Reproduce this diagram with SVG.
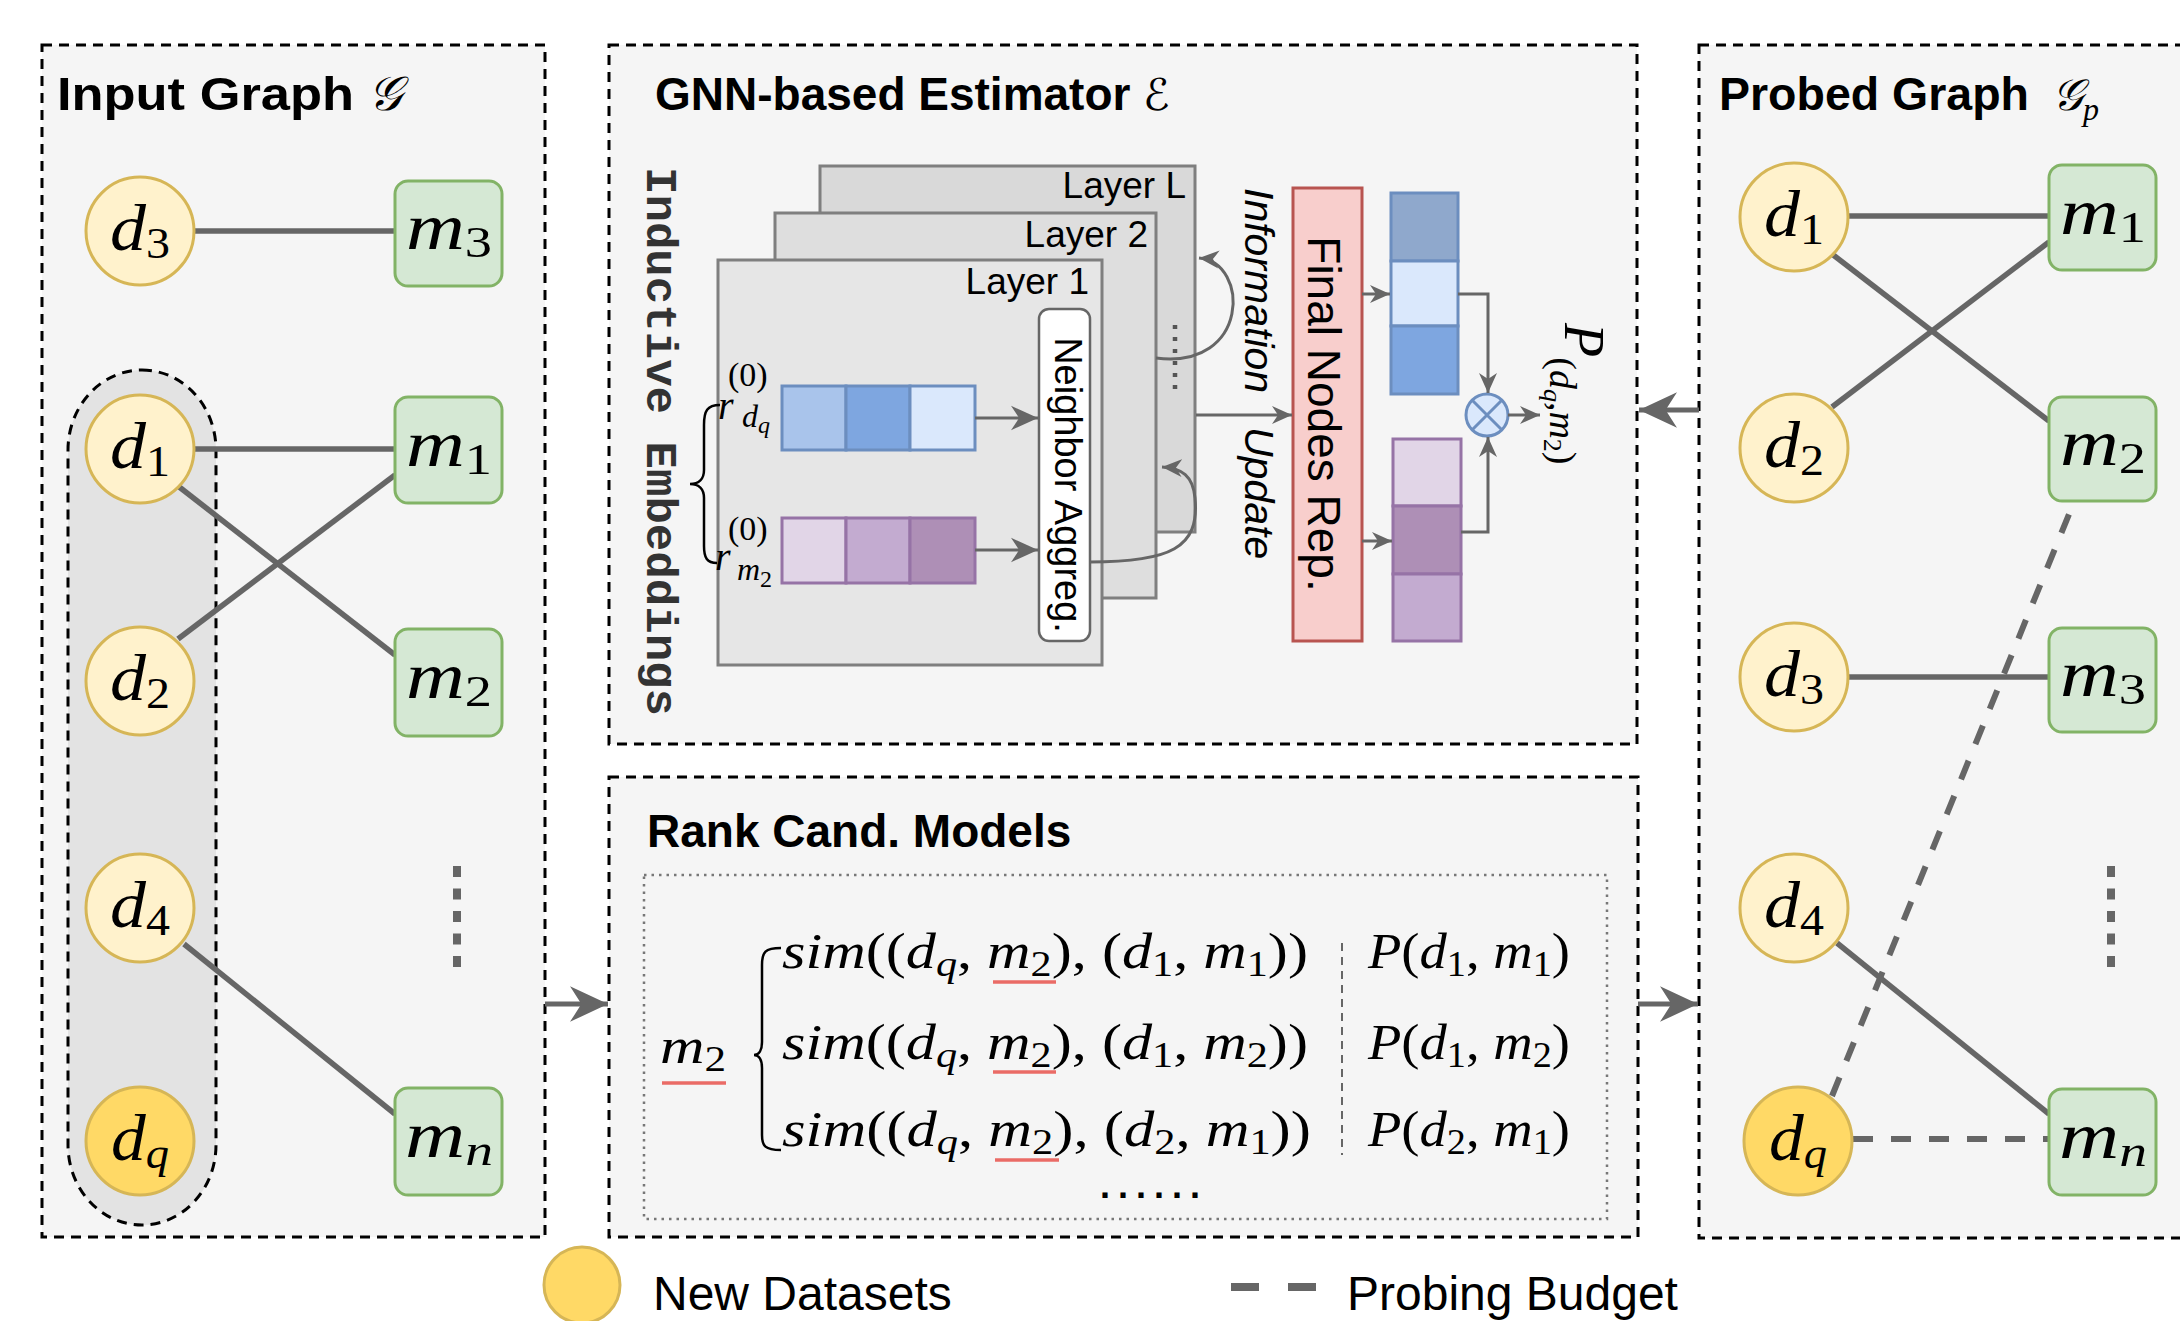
<svg xmlns="http://www.w3.org/2000/svg" width="2180" height="1321" viewBox="0 0 2180 1321">
<style>
.panel{fill:#f5f5f5;stroke:#000;stroke-width:3;stroke-dasharray:10 7}
.dn{fill:#fff2cc;stroke:#d6b656;stroke-width:3}
.dqn{fill:#ffd966;stroke:#d6b656;stroke-width:3}
.mb{fill:#d5e8d4;stroke:#82b366;stroke-width:3}
.edge{stroke:#666;stroke-width:5.5;fill:none}
.probe{stroke:#666;stroke-width:6;stroke-dasharray:20 18;fill:none}
.arr{stroke:#666;stroke-width:3;fill:none}
.flow{stroke:#666;stroke-width:5;fill:none}
.vdots{stroke:#666;stroke-width:8;stroke-dasharray:11 11.5}
.lbl{font-family:"Liberation Serif",serif;font-style:italic;font-size:66px;text-anchor:middle;fill:#000}
.sub{font-size:44px;font-style:normal}
.subi{font-size:44px;font-style:italic}
.title{font-family:"Liberation Sans",Arial,sans-serif;font-weight:bold;font-size:46px;fill:#000}
.sans{font-family:"Liberation Sans",Arial,sans-serif;fill:#000}
.mth{font-family:"Liberation Serif",serif;font-size:50px;fill:#000}
.it{font-style:italic}
.sb{font-size:35px}
.layer{stroke:#7f7f7f;stroke-width:3}
.cellb{stroke:#6c8ebf;stroke-width:3}
.cellp{stroke:#9673a6;stroke-width:3}
.brace{stroke:#000;stroke-width:2.5;fill:none}
.uline{stroke:#ea6b66;stroke-width:3.5}
</style>
<defs>
<marker id="ah" viewBox="0 0 10 10" refX="10" refY="5" markerWidth="27" markerHeight="27" markerUnits="userSpaceOnUse" orient="auto"><path d="M0,0.5 L10,5 L0,9.5 L3,5 z" fill="#666"/></marker>
<marker id="ahs" viewBox="0 0 10 10" refX="10" refY="5" markerWidth="20" markerHeight="20" markerUnits="userSpaceOnUse" orient="auto"><path d="M0,0.5 L10,5 L0,9.5 L3,5 z" fill="#666"/></marker>
<marker id="ahb" viewBox="0 0 10 10" refX="10" refY="5" markerWidth="38" markerHeight="38" markerUnits="userSpaceOnUse" orient="auto"><path d="M0,0.3 L10,5 L0,9.7 L3,5 z" fill="#666"/></marker>
</defs>
<rect width="2180" height="1321" fill="#fff"/>

<!-- panels -->
<g id="panel-input">
<rect class="panel" x="42" y="45" width="503" height="1192"/>
<text class="title" x="57" y="110" font-size="53" textLength="297" lengthAdjust="spacingAndGlyphs">Input Graph</text>
<text x="368" y="110" font-family="DejaVu Serif, serif" font-size="48" font-style="italic">𝒢</text>
<rect x="68" y="370" width="148" height="855" rx="74" ry="80" fill="#e3e3e3" stroke="#000" stroke-width="3" stroke-dasharray="10 7"/>
</g>

<g id="panel-gnn">
<rect class="panel" x="609" y="45" width="1028" height="699"/>
<text class="title" x="655" y="110">GNN-based Estimator</text>
<text x="1143" y="110" font-family="DejaVu Sans, sans-serif" font-size="44" font-style="italic">ℰ</text>
<text transform="translate(647,167) rotate(90)" font-family="Liberation Mono, monospace" font-weight="bold" font-size="45" fill="#333" textLength="549" lengthAdjust="spacingAndGlyphs">Inductive Embeddings</text>
</g>

<g id="panel-rank">
<rect class="panel" x="609" y="777" width="1029" height="460"/>
<text class="title" x="647" y="847">Rank Cand. Models</text>
<rect x="644" y="875" width="963" height="344" fill="none" stroke="#777" stroke-width="2.5" stroke-dasharray="2.5 5"/>
</g>

<g id="panel-probed">
<rect class="panel" x="1699" y="45" width="520" height="1193"/>
<text class="title" x="1719" y="110" textLength="310" lengthAdjust="spacingAndGlyphs">Probed Graph</text>
<text x="2052" y="110" font-family="DejaVu Serif, serif" font-size="44" font-style="italic">𝒢<tspan font-family="Liberation Serif, serif" font-size="32" dy="10">p</tspan></text>
</g>

<!-- GNN estimator internals -->
<g id="layer-L">
<rect class="layer" x="820" y="166" width="375" height="366" fill="#d9d9d9"/>
<text class="sans" x="1186" y="198" font-size="37" text-anchor="end">Layer L</text>
</g>
<g id="layer-2">
<rect class="layer" x="775" y="213" width="381" height="385" fill="#dedede"/>
<text class="sans" x="1148" y="247" font-size="37" text-anchor="end">Layer 2</text>
</g>
<g id="layer-1">
<rect class="layer" x="718" y="260" width="384" height="405" fill="#e6e6e6"/>
<text class="sans" x="1089" y="294" font-size="37" text-anchor="end">Layer 1</text>
</g>
<line x1="1175" y1="325" x2="1175" y2="394" stroke="#555" stroke-width="4.5" stroke-dasharray="4 8"/>

<g id="neighbor-aggreg">
<rect x="1039" y="309" width="51" height="332" rx="10" fill="#fff" stroke="#666" stroke-width="2.5"/>
<text class="sans" transform="translate(1055,485) rotate(90)" font-size="38" text-anchor="middle">Neighbor Aggreg.</text>
</g>

<g id="emb-dq">
<rect class="cellb" x="782" y="386" width="64" height="64" fill="#a9c4eb"/>
<rect class="cellb" x="846" y="386" width="64" height="64" fill="#7ea6e0"/>
<rect class="cellb" x="910" y="386" width="65" height="64" fill="#dae8fc"/>
<text x="728" y="386" font-family="Liberation Serif, serif" font-size="34">(0)</text>
<text x="718" y="419" font-family="Liberation Serif, serif" font-style="italic" font-size="40">r</text>
<text x="742" y="427" font-family="Liberation Serif, serif" font-style="italic" font-size="32">d<tspan font-size="24" dy="6">q</tspan></text>
</g>
<g id="emb-m2">
<rect class="cellp" x="782" y="518" width="64" height="65" fill="#e1d5e7"/>
<rect class="cellp" x="846" y="518" width="64" height="65" fill="#c3abd0"/>
<rect class="cellp" x="910" y="518" width="65" height="65" fill="#ae8fb6"/>
<text x="728" y="540" font-family="Liberation Serif, serif" font-size="34">(0)</text>
<text x="715" y="570" font-family="Liberation Serif, serif" font-style="italic" font-size="40">r</text>
<text x="737" y="580" font-family="Liberation Serif, serif" font-style="italic" font-size="32">m<tspan font-style="normal" font-size="24" dy="7">2</tspan></text>
</g>
<path class="brace" d="M720,405 C707,405 704,411 704,425 L704,470 C704,479 699,484 690,484 C699,484 704,489 704,498 L704,546 C704,558 707,563 717,563"/>

<g id="info-update">
<text class="sans" transform="translate(1245,188) rotate(90)" font-size="41" font-style="italic">Information</text>
<text class="sans" transform="translate(1245,427) rotate(90)" font-size="41" font-style="italic">Update</text>
</g>

<g id="final-nodes-rep">
<rect x="1293" y="188" width="69" height="453" fill="#f8cecc" stroke="#b85450" stroke-width="3"/>
<text class="sans" transform="translate(1308,414) rotate(90)" font-size="46" text-anchor="middle">Final Nodes Rep.</text>
</g>

<g id="final-emb-dq">
<rect class="cellb" x="1391" y="193" width="67" height="68" fill="#8fa8cc"/>
<rect class="cellb" x="1391" y="261" width="67" height="65" fill="#dae8fc"/>
<rect class="cellb" x="1391" y="326" width="67" height="68" fill="#7ea6e0"/>
</g>
<g id="final-emb-m2">
<rect class="cellp" x="1393" y="439" width="68" height="67" fill="#e1d5e7"/>
<rect class="cellp" x="1393" y="506" width="68" height="68" fill="#ae8fb6"/>
<rect class="cellp" x="1393" y="574" width="68" height="67" fill="#c3abd0"/>
</g>

<g id="product">
<circle cx="1487" cy="415" r="21" fill="#dae8fc" stroke="#6c8ebf" stroke-width="3"/>
<path d="M1472,400 L1502,430 M1502,400 L1472,430" stroke="#6c8ebf" stroke-width="3"/>
</g>

<g id="score-label">
<text transform="translate(1565,323) rotate(90)" font-family="Liberation Serif, serif" font-style="italic" font-size="56">P<tspan font-size="38" font-style="normal" dy="15">(</tspan><tspan font-size="38">d</tspan><tspan font-size="26" dy="6">q</tspan><tspan font-size="38" font-style="normal" dy="-6">,</tspan><tspan font-size="38">m</tspan><tspan font-size="26" font-style="normal" dy="6">2</tspan><tspan font-size="38" font-style="normal" dy="-6">)</tspan></text>
</g>

<!-- ranking formulas -->
<g id="rank-formulas">
<text class="mth it" x="660" y="1063" textLength="66" lengthAdjust="spacingAndGlyphs">m<tspan class="sb" font-style="normal" dy="8">2</tspan></text>
<line class="uline" x1="662" y1="1083" x2="726" y2="1083"/>
<path class="brace" d="M781,948 C765,948 762,952 762,965 L762,1042 C762,1050 759,1055 754,1055 C759,1055 762,1060 762,1068 L762,1135 C762,1146 765,1150 781,1150"/>
<text class="mth" x="782" y="968" textLength="526" lengthAdjust="spacingAndGlyphs"><tspan class="it">sim</tspan>((<tspan class="it">d</tspan><tspan class="sb it" dy="8">q</tspan><tspan dy="-8">, </tspan><tspan class="it">m</tspan><tspan class="sb" dy="8">2</tspan><tspan dy="-8">), (</tspan><tspan class="it">d</tspan><tspan class="sb" dy="8">1</tspan><tspan dy="-8">, </tspan><tspan class="it">m</tspan><tspan class="sb" dy="8">1</tspan><tspan dy="-8">))</tspan></text>
<text class="mth" x="782" y="1059" textLength="526" lengthAdjust="spacingAndGlyphs"><tspan class="it">sim</tspan>((<tspan class="it">d</tspan><tspan class="sb it" dy="8">q</tspan><tspan dy="-8">, </tspan><tspan class="it">m</tspan><tspan class="sb" dy="8">2</tspan><tspan dy="-8">), (</tspan><tspan class="it">d</tspan><tspan class="sb" dy="8">1</tspan><tspan dy="-8">, </tspan><tspan class="it">m</tspan><tspan class="sb" dy="8">2</tspan><tspan dy="-8">))</tspan></text>
<text class="mth" x="782" y="1146" textLength="529" lengthAdjust="spacingAndGlyphs"><tspan class="it">sim</tspan>((<tspan class="it">d</tspan><tspan class="sb it" dy="8">q</tspan><tspan dy="-8">, </tspan><tspan class="it">m</tspan><tspan class="sb" dy="8">2</tspan><tspan dy="-8">), (</tspan><tspan class="it">d</tspan><tspan class="sb" dy="8">2</tspan><tspan dy="-8">, </tspan><tspan class="it">m</tspan><tspan class="sb" dy="8">1</tspan><tspan dy="-8">))</tspan></text>
<line class="uline" x1="993" y1="982" x2="1056" y2="982"/>
<line class="uline" x1="993" y1="1072" x2="1056" y2="1072"/>
<line class="uline" x1="995" y1="1160" x2="1059" y2="1160"/>
<line x1="1342" y1="943" x2="1342" y2="1155" stroke="#666" stroke-width="2" stroke-dasharray="8 6"/>
<text class="mth" x="1368" y="968" textLength="202" lengthAdjust="spacingAndGlyphs"><tspan class="it">P</tspan>(<tspan class="it">d</tspan><tspan class="sb" dy="8">1</tspan><tspan dy="-8">, </tspan><tspan class="it">m</tspan><tspan class="sb" dy="8">1</tspan><tspan dy="-8">)</tspan></text>
<text class="mth" x="1368" y="1059" textLength="202" lengthAdjust="spacingAndGlyphs"><tspan class="it">P</tspan>(<tspan class="it">d</tspan><tspan class="sb" dy="8">1</tspan><tspan dy="-8">, </tspan><tspan class="it">m</tspan><tspan class="sb" dy="8">2</tspan><tspan dy="-8">)</tspan></text>
<text class="mth" x="1368" y="1146" textLength="202" lengthAdjust="spacingAndGlyphs"><tspan class="it">P</tspan>(<tspan class="it">d</tspan><tspan class="sb" dy="8">2</tspan><tspan dy="-8">, </tspan><tspan class="it">m</tspan><tspan class="sb" dy="8">1</tspan><tspan dy="-8">)</tspan></text>
<text class="sans" x="1100" y="1198" font-size="36" font-weight="bold" textLength="100" lengthAdjust="spacing">......</text>
</g>

<!-- connectors -->
<g id="connectors">
<line class="edge" x1="194" y1="231" x2="395" y2="231"/>
<line class="edge" x1="194" y1="449" x2="395" y2="449"/>
<line class="edge" x1="178" y1="486" x2="395" y2="655"/>
<line class="edge" x1="178" y1="639" x2="395" y2="475"/>
<line class="edge" x1="184" y1="944" x2="395" y2="1114"/>
<line class="vdots" x1="457" y1="866" x2="457" y2="968"/>

<line class="edge" x1="1849" y1="216" x2="2049" y2="216"/>
<line class="edge" x1="1832" y1="254" x2="2049" y2="421"/>
<line class="edge" x1="1832" y1="407" x2="2049" y2="242"/>
<line class="edge" x1="1849" y1="677" x2="2049" y2="677"/>
<line class="edge" x1="1837" y1="943" x2="2049" y2="1114"/>
<line class="probe" x1="1832" y1="1096" x2="2074" y2="502"/>
<line class="probe" x1="1853" y1="1139" x2="2049" y2="1139"/>
<line class="vdots" x1="2111" y1="866" x2="2111" y2="968"/>

<line class="arr" x1="975" y1="418" x2="1038" y2="418" marker-end="url(#ah)"/>
<line class="arr" x1="975" y1="550" x2="1038" y2="550" marker-end="url(#ah)"/>
<path class="arr" d="M1156,358 C1250,370 1250,262 1199,258" marker-end="url(#ahs)"/>
<path class="arr" d="M1090,562 C1170,562 1200,548 1195,498 C1193,476 1182,468 1162,467" marker-end="url(#ahs)"/>
<line class="arr" x1="1196" y1="415" x2="1292" y2="415" marker-end="url(#ahs)"/>
<line class="arr" x1="1362" y1="294" x2="1390" y2="294" marker-end="url(#ahs)"/>
<line class="arr" x1="1362" y1="541" x2="1392" y2="541" marker-end="url(#ahs)"/>
<path class="arr" d="M1458,294 L1488,294 L1488,393" marker-end="url(#ahs)"/>
<path class="arr" d="M1461,532 L1488,532 L1488,437" marker-end="url(#ahs)"/>
<line class="arr" x1="1508" y1="415" x2="1540" y2="415" marker-end="url(#ahs)"/>

<line class="flow" x1="545" y1="1004" x2="608" y2="1004" marker-end="url(#ahb)"/>
<line class="flow" x1="1638" y1="1004" x2="1698" y2="1004" marker-end="url(#ahb)"/>
<line class="flow" x1="1699" y1="410" x2="1639" y2="410" marker-end="url(#ahb)"/>
</g>

<!-- input graph nodes -->
<g id="in-d3"><circle class="dn" cx="140" cy="231" r="54"/><text class="lbl" x="140" y="250" textLength="60" lengthAdjust="spacingAndGlyphs">d<tspan class="sub" dy="8">3</tspan></text></g>
<g id="in-d1"><circle class="dn" cx="140" cy="449" r="54"/><text class="lbl" x="140" y="468" textLength="60" lengthAdjust="spacingAndGlyphs">d<tspan class="sub" dy="8">1</tspan></text></g>
<g id="in-d2"><circle class="dn" cx="140" cy="681" r="54"/><text class="lbl" x="140" y="700" textLength="60" lengthAdjust="spacingAndGlyphs">d<tspan class="sub" dy="8">2</tspan></text></g>
<g id="in-d4"><circle class="dn" cx="140" cy="908" r="54"/><text class="lbl" x="140" y="927" textLength="60" lengthAdjust="spacingAndGlyphs">d<tspan class="sub" dy="8">4</tspan></text></g>
<g id="in-dq"><circle class="dqn" cx="140" cy="1141" r="54"/><text class="lbl" x="140" y="1160" textLength="58" lengthAdjust="spacingAndGlyphs">d<tspan class="subi" dy="8">q</tspan></text></g>
<g id="in-m3"><rect class="mb" x="395" y="181" width="107" height="105" rx="13"/><text class="lbl" x="449" y="249" textLength="86" lengthAdjust="spacingAndGlyphs">m<tspan class="sub" dy="8">3</tspan></text></g>
<g id="in-m1"><rect class="mb" x="395" y="397" width="107" height="106" rx="13"/><text class="lbl" x="449" y="466" textLength="86" lengthAdjust="spacingAndGlyphs">m<tspan class="sub" dy="8">1</tspan></text></g>
<g id="in-m2"><rect class="mb" x="395" y="629" width="107" height="107" rx="13"/><text class="lbl" x="449" y="698" textLength="86" lengthAdjust="spacingAndGlyphs">m<tspan class="sub" dy="8">2</tspan></text></g>
<g id="in-mn"><rect class="mb" x="395" y="1088" width="107" height="107" rx="13"/><text class="lbl" x="449" y="1157" textLength="88" lengthAdjust="spacingAndGlyphs">m<tspan class="subi" dy="8">n</tspan></text></g>

<!-- probed graph nodes -->
<g id="pr-d1"><circle class="dn" cx="1794" cy="217" r="54"/><text class="lbl" x="1794" y="236" textLength="60" lengthAdjust="spacingAndGlyphs">d<tspan class="sub" dy="8">1</tspan></text></g>
<g id="pr-d2"><circle class="dn" cx="1794" cy="448" r="54"/><text class="lbl" x="1794" y="467" textLength="60" lengthAdjust="spacingAndGlyphs">d<tspan class="sub" dy="8">2</tspan></text></g>
<g id="pr-d3"><circle class="dn" cx="1794" cy="677" r="54"/><text class="lbl" x="1794" y="696" textLength="60" lengthAdjust="spacingAndGlyphs">d<tspan class="sub" dy="8">3</tspan></text></g>
<g id="pr-d4"><circle class="dn" cx="1794" cy="908" r="54"/><text class="lbl" x="1794" y="927" textLength="60" lengthAdjust="spacingAndGlyphs">d<tspan class="sub" dy="8">4</tspan></text></g>
<g id="pr-dq"><circle class="dqn" cx="1798" cy="1141" r="54"/><text class="lbl" x="1798" y="1160" textLength="58" lengthAdjust="spacingAndGlyphs">d<tspan class="subi" dy="8">q</tspan></text></g>
<g id="pr-m1"><rect class="mb" x="2049" y="165" width="107" height="105" rx="13"/><text class="lbl" x="2103" y="234" textLength="86" lengthAdjust="spacingAndGlyphs">m<tspan class="sub" dy="8">1</tspan></text></g>
<g id="pr-m2"><rect class="mb" x="2049" y="397" width="107" height="104" rx="13"/><text class="lbl" x="2103" y="465" textLength="86" lengthAdjust="spacingAndGlyphs">m<tspan class="sub" dy="8">2</tspan></text></g>
<g id="pr-m3"><rect class="mb" x="2049" y="628" width="107" height="104" rx="13"/><text class="lbl" x="2103" y="696" textLength="86" lengthAdjust="spacingAndGlyphs">m<tspan class="sub" dy="8">3</tspan></text></g>
<g id="pr-mn"><rect class="mb" x="2049" y="1089" width="107" height="106" rx="13"/><text class="lbl" x="2103" y="1158" textLength="88" lengthAdjust="spacingAndGlyphs">m<tspan class="subi" dy="8">n</tspan></text></g>

<!-- legend -->
<g id="legend">
<circle cx="582" cy="1285" r="38" fill="#ffd966" stroke="#d6b656" stroke-width="3"/>
<text class="sans" x="653" y="1310" font-size="48">New Datasets</text>
<rect x="1231" y="1283" width="28" height="8" fill="#666"/>
<rect x="1288" y="1283" width="28" height="8" fill="#666"/>
<text class="sans" x="1347" y="1310" font-size="48">Probing Budget</text>
</g>
</svg>
